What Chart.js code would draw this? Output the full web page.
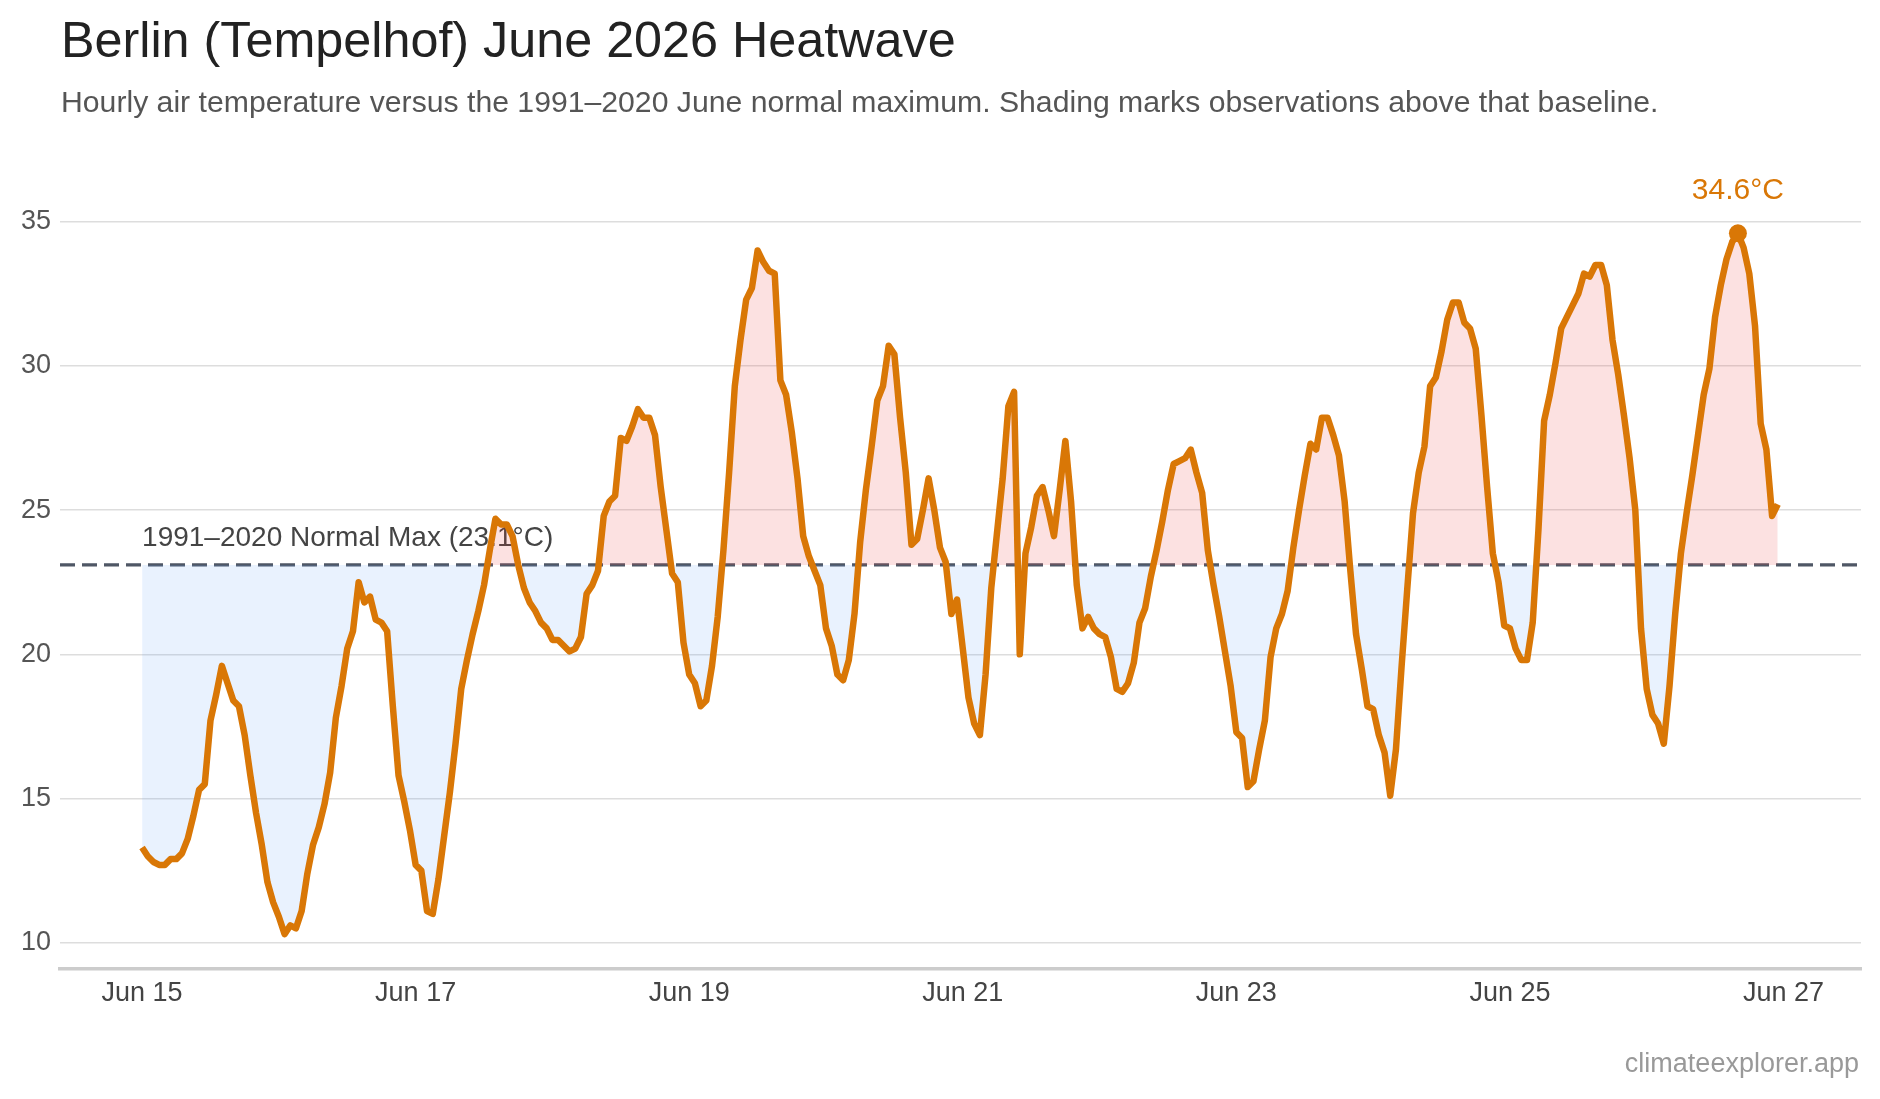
<!DOCTYPE html>
<html>
<head>
<meta charset="utf-8">
<title>Berlin (Tempelhof) June 2026 Heatwave</title>
<script src="https://cdn.jsdelivr.net/npm/chart.js@4.4.1/dist/chart.umd.min.js"></script>
<style>
  html, body { margin: 0; padding: 0; background: #fff; }
  #wrap { position: relative; width: 1880px; height: 1099px; font-family: "Liberation Sans", Arial, Helvetica, sans-serif; }
  #title { position: absolute; left: 61px; top: 15px; margin: 0; font-size: 50.3px; line-height: 1; font-weight: 400; color: #222; white-space: nowrap; }
  #subtitle { position: absolute; left: 61px; top: 87px; margin: 0; font-size: 30.2px; line-height: 1; color: #555; white-space: nowrap; }
  #source { position: absolute; right: 21px; top: 1050px; font-size: 27px; line-height: 1; color: #999; }
  #chartBox { position: absolute; left: 0; top: 0; width: 1880px; height: 1099px; }
</style>
</head>
<body>
<div id="wrap">
  <div id="chartBox"><canvas id="heatChart"></canvas></div>
  <h1 id="title">Berlin (Tempelhof) June 2026 Heatwave</h1>
  <p id="subtitle">Hourly air temperature versus the 1991–2020 June normal maximum. Shading marks observations above that baseline.</p>
  <div id="source">climateexplorer.app</div>
</div>
<script>
// hourly temperatures (°C), 00:00 → 23:00 for each day
const jun15 = [13.3, 13.0, 12.8, 12.7, 12.7, 12.9, 12.9, 13.1, 13.6, 14.4, 15.3, 15.5, 17.7, 18.6, 19.6, 19.0, 18.4, 18.2, 17.2, 15.8, 14.5, 13.4, 12.1, 11.4];
const jun16 = [10.9, 10.3, 10.6, 10.5, 11.1, 12.4, 13.4, 14.0, 14.8, 15.9, 17.8, 18.9, 20.2, 20.8, 22.5, 21.8, 22.0, 21.2, 21.1, 20.8, 18.2, 15.8, 14.9, 13.9];
const jun17 = [12.7, 12.5, 11.1, 11.0, 12.2, 13.7, 15.2, 16.9, 18.8, 19.8, 20.7, 21.5, 22.4, 23.6, 24.7, 24.5, 24.5, 24.1, 23.1, 22.3, 21.8, 21.5, 21.1, 20.9];
const jun18 = [20.5, 20.5, 20.3, 20.1, 20.2, 20.6, 22.1, 22.4, 22.9, 24.8, 25.3, 25.5, 27.5, 27.4, 27.9, 28.5, 28.2, 28.2, 27.6, 25.8, 24.3, 22.8, 22.5, 20.4];
const jun19 = [19.3, 19.0, 18.2, 18.4, 19.6, 21.3, 23.6, 26.3, 29.3, 30.9, 32.3, 32.7, 34.0, 33.6, 33.3, 33.2, 29.5, 29.0, 27.7, 26.1, 24.1, 23.4, 22.9, 22.4];
const jun20 = [20.9, 20.3, 19.3, 19.1, 19.8, 21.4, 23.9, 25.7, 27.2, 28.8, 29.3, 30.7, 30.4, 28.2, 26.3, 23.8, 24.0, 25.0, 26.1, 25.0, 23.7, 23.2, 21.4, 21.9];
const jun21 = [20.2, 18.5, 17.6, 17.2, 19.3, 22.3, 24.2, 26.1, 28.6, 29.1, 20.0, 23.5, 24.4, 25.5, 25.8, 25.0, 24.1, 25.7, 27.4, 25.3, 22.4, 20.9, 21.3, 20.9];
const jun22 = [20.7, 20.6, 19.9, 18.8, 18.7, 19.0, 19.7, 21.1, 21.6, 22.7, 23.6, 24.6, 25.7, 26.6, 26.7, 26.8, 27.1, 26.3, 25.6, 23.6, 22.4, 21.3, 20.1, 18.9];
const jun23 = [17.3, 17.1, 15.4, 15.6, 16.7, 17.7, 19.9, 20.9, 21.4, 22.2, 23.7, 25.0, 26.2, 27.3, 27.1, 28.2, 28.2, 27.6, 26.9, 25.3, 22.9, 20.7, 19.5, 18.2];
const jun24 = [18.1, 17.2, 16.6, 15.1, 16.7, 19.6, 22.3, 24.9, 26.3, 27.2, 29.3, 29.6, 30.5, 31.6, 32.2, 32.2, 31.5, 31.3, 30.6, 28.3, 25.8, 23.5, 22.5, 21.0];
const jun25 = [20.9, 20.2, 19.8, 19.8, 21.1, 24.3, 28.1, 29.0, 30.1, 31.3, 31.7, 32.1, 32.5, 33.2, 33.1, 33.5, 33.5, 32.8, 30.9, 29.7, 28.3, 26.8, 25.0, 20.9];
const jun26 = [18.8, 17.9, 17.6, 16.9, 18.9, 21.4, 23.5, 24.9, 26.2, 27.6, 29.0, 29.9, 31.7, 32.8, 33.7, 34.3, 34.6, 34.1, 33.2, 31.4, 28.0, 27.1, 24.8, 25.2];

const X_TICK_LABELS = ['Jun 15', 'Jun 17', 'Jun 19', 'Jun 21', 'Jun 23', 'Jun 25', 'Jun 27'];
const Y_TICKS = [10, 15, 20, 25, 30, 35];
const NORMAL_MAX = 23.1;
const NORMAL_LABEL = '1991–2020 Normal Max (23.1°C)';

const FONT = '"Liberation Sans", Arial, Helvetica, sans-serif';
const ORANGE = '#d97706';

const temps = [].concat(jun15, jun16, jun17, jun18, jun19, jun20, jun21, jun22, jun23, jun24, jun25, jun26);
const points = temps.map((t, i) => ({ x: i, y: t }));
const peakIdx = temps.indexOf(Math.max(...temps));

// dashed normal line + its label, drawn under the fill and the line
const normalLine = {
  id: 'normalLine',
  beforeDatasetsDraw(chart) {
    const { ctx, chartArea: a, scales: { x, y } } = chart;
    const py = y.getPixelForValue(NORMAL_MAX);
    ctx.save();
    ctx.strokeStyle = '#4f5765';
    ctx.lineWidth = 3.2;
    ctx.setLineDash([15, 7]);
    ctx.beginPath();
    ctx.moveTo(a.left, py);
    ctx.lineTo(a.right, py);
    ctx.stroke();
    ctx.setLineDash([]);
    ctx.font = `28px ${FONT}`;
    ctx.fillStyle = '#444';
    ctx.textAlign = 'left';
    ctx.textBaseline = 'alphabetic';
    ctx.fillText(NORMAL_LABEL, x.getPixelForValue(0), py - 19);
    ctx.restore();
  },
};

// value label over the hottest hour
const peakLabel = {
  id: 'peakLabel',
  afterDatasetsDraw(chart) {
    const el = chart.getDatasetMeta(0).data[peakIdx];
    if (!el) return;
    const { ctx } = chart;
    ctx.save();
    ctx.font = `30px ${FONT}`;
    ctx.fillStyle = ORANGE;
    ctx.textAlign = 'center';
    ctx.textBaseline = 'alphabetic';
    ctx.fillText(`${temps[peakIdx].toFixed(1)}°C`, el.x, el.y - 34);
    ctx.restore();
  },
};

new Chart(document.getElementById('heatChart'), {
  type: 'line',
  data: {
    datasets: [{
      label: 'Air temperature (°C)',
      data: points,
      borderColor: ORANGE,
      borderWidth: 6.5,
      borderJoinStyle: 'round',
      tension: 0,
      pointRadius: c => (c.dataIndex === peakIdx ? 9 : 0),
      pointHoverRadius: 0,
      pointBackgroundColor: ORANGE,
      pointBorderWidth: 0,
      fill: {
        target: { value: NORMAL_MAX },
        above: 'rgba(239, 68, 68, 0.16)',
        below: 'rgba(96, 165, 250, 0.14)',
      },
    }],
  },
  options: {
    responsive: true,
    maintainAspectRatio: false,
    animation: false,
    events: [],
    layout: { padding: { top: 149.6, right: 19, bottom: 0, left: 0 } },
    plugins: {
      legend: { display: false },
      tooltip: { enabled: false },
    },
    scales: {
      x: {
        type: 'linear',
        min: -14.4,
        max: 301.6,
        afterBuildTicks: s => { s.ticks = X_TICK_LABELS.map((_, i) => ({ value: i * 48 })); },
        afterFit: s => { s.height = 130; },
        grid: { display: false, drawTicks: false },
        border: { display: true, color: '#cccccc', width: 3.5 },
        ticks: {
          autoSkip: false,
          maxRotation: 0,
          padding: 8,
          color: '#444',
          font: { family: FONT, size: 27 },
          callback: v => X_TICK_LABELS[v / 48],
        },
      },
      y: {
        min: 9.09,
        max: 37.5,
        afterBuildTicks: s => { s.ticks = Y_TICKS.map(v => ({ value: v })); },
        afterFit: s => { s.width = 60; },
        grid: { color: '#dddddd', lineWidth: 1.5, drawTicks: false },
        border: { display: false },
        ticks: {
          padding: 9,
          color: '#555',
          font: { family: FONT, size: 27 },
        },
      },
    },
  },
  plugins: [normalLine, peakLabel],
});
</script>
</body>
</html>
